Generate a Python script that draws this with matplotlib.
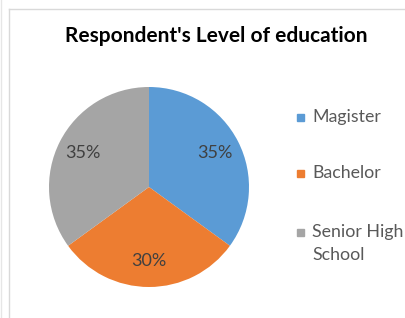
import matplotlib
matplotlib.use("Agg")
import matplotlib.pyplot as plt
from matplotlib.patches import Rectangle
from matplotlib.lines import Line2D

categories = ["Magister", "Bachelor", "Senior High\nSchool"]
values = [35, 30, 35]
colors = ["#5B9BD5", "#ED7D31", "#A5A5A5"]
title = "Respondent's Level of education"

plt.rcParams['font.family'] = ['Lato', 'DejaVu Sans']

W, H = 405, 318
fig = plt.figure(figsize=(W/100, H/100), dpi=100)

# frame lines
fig.add_artist(Line2D([1/W, 1/W], [0, 1], color="#e6e6e6", lw=1, transform=fig.transFigure))
fig.add_artist(Line2D([9/W, 9/W], [0, 1 - 9/H], color="#d9d9d9", lw=1, transform=fig.transFigure))
fig.add_artist(Line2D([9/W, 1], [1 - 9/H, 1 - 9/H], color="#d9d9d9", lw=1, transform=fig.transFigure))

cx, cy, r = 149, 187, 100
ax = fig.add_axes([(cx - r)/W, (H - cy - r)/H, 2*r/W, 2*r/H])
wedges, texts, autotexts = ax.pie(values, colors=colors, startangle=90, counterclock=False,
                                  autopct='%d%%', pctdistance=0.74,
                                  textprops=dict(color="#404040", fontsize=13))
ax.set_xlim(-1, 1)
ax.set_ylim(-1, 1)
ax.set_aspect('equal')
ax.axis('off')

fig.text(216/W, 1 - 36/H, title, ha='center', va='center', fontsize=15, fontweight='bold', color='#000000')

# legend
ys = [117, 173, 232]
for lab, col, y in zip(categories, colors, ys):
    fig.add_artist(Rectangle((297/W, 1 - (y + 3.5)/H), 7/W, 7/H, color=col, transform=fig.transFigure))
    lines = lab.split("\n")
    for i, ln in enumerate(lines):
        fig.text(312/W, 1 - (y + i*23)/H, ln, ha='left', va='center', fontsize=12.8, color='#595959')

fig.savefig("out.png", dpi=100)
